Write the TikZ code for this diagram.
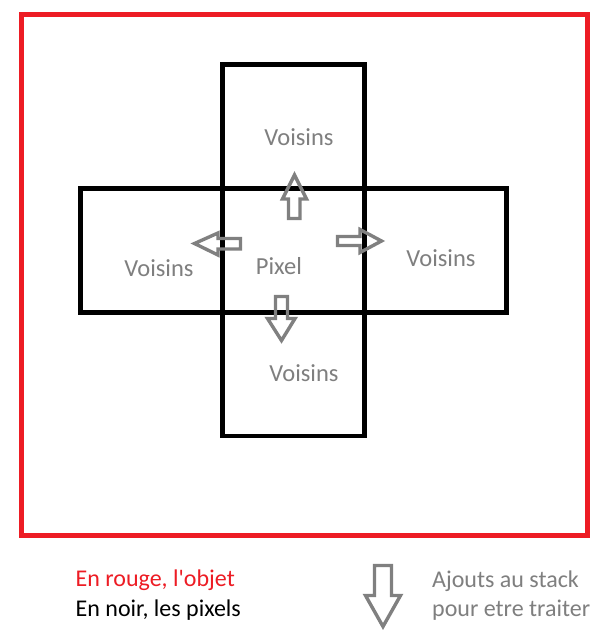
\documentclass[tikz,border=0pt]{standalone}
\usepackage{fontspec}
\setmainfont{Carlito}
\definecolor{objred}{HTML}{ED1C24}
\definecolor{txtgray}{HTML}{7F7F7F}
\definecolor{arrgray}{HTML}{808080}
\begin{document}
\begin{tikzpicture}[x=1pt,y=-1pt,
  pixbox/.style={draw=black,line width=4.6pt},
  objbox/.style={draw=objred,line width=5pt},
  lbl/.style={text=txtgray,font=\fontsize{24.5}{28}\selectfont,anchor=base,inner sep=0pt},
  leg/.style={font=\fontsize{24}{28}\selectfont,anchor=base west,inner sep=0pt},
  blockarrow/.style={draw=arrgray,line width=3.4pt,line join=miter,fill=none}]
\useasboundingbox (0,0) rectangle (607,641);
\fill[white] (0,0) rectangle (607,641);
% object
\draw[objbox] (21.5,14.5) rectangle (587.5,535.2);
% pixel boxes
\draw[pixbox] (222.7,64.3) rectangle (364.3,436);
\draw[pixbox] (80.3,188.5) rectangle (506.3,312.3);
% labels
\node[lbl] (vt) at (299,145) {Voisins};
\node[lbl] (vl) at (159,276) {Voisins};
\node[lbl] (vr) at (441,266) {Voisins};
\node[lbl] (vb) at (304,381) {Voisins};
\node[lbl] (px) at (279,274) {Pixel};
% block arrows
\draw[blockarrow] (288.5,218.5) -- (288.5,199) -- (282.5,199) -- (294.5,175) -- (306.5,199) -- (300,199) -- (300,218.5) -- cycle;
\draw[blockarrow] (240.5,238.5) -- (218,238.5) -- (218,233) -- (194.5,243.5) -- (218,255) -- (218,249) -- (240.5,249) -- cycle;
\draw[blockarrow] (337.5,236.5) -- (360,236.5) -- (360,229.5) -- (381.5,241) -- (360,252.5) -- (360,245.5) -- (337.5,245.5) -- cycle;
\draw[blockarrow] (275.5,296.5) -- (287.5,296.5) -- (287.5,318.5) -- (295,318.5) -- (281.5,340.5) -- (267.5,318.5) -- (275.5,318.5) -- cycle;
\draw[blockarrow] (374.5,565.5) -- (391.5,565.5) -- (391.5,595.5) -- (400.5,595.5) -- (383,626.5) -- (365.5,595.5) -- (374.5,595.5) -- cycle;
% legend
\node[leg,text=objred] (l1) at (75.5,586.5) {En rouge, l\textquotesingle objet};
\node[leg,text=black] (l2) at (75.5,616) {En noir, les pixels};
\node[leg,text=txtgray] (l3) at (432,587.5) {Ajouts au stack};
\node[leg,text=txtgray] (l4) at (432,616) {pour etre traiter};
\end{tikzpicture}
\end{document}
